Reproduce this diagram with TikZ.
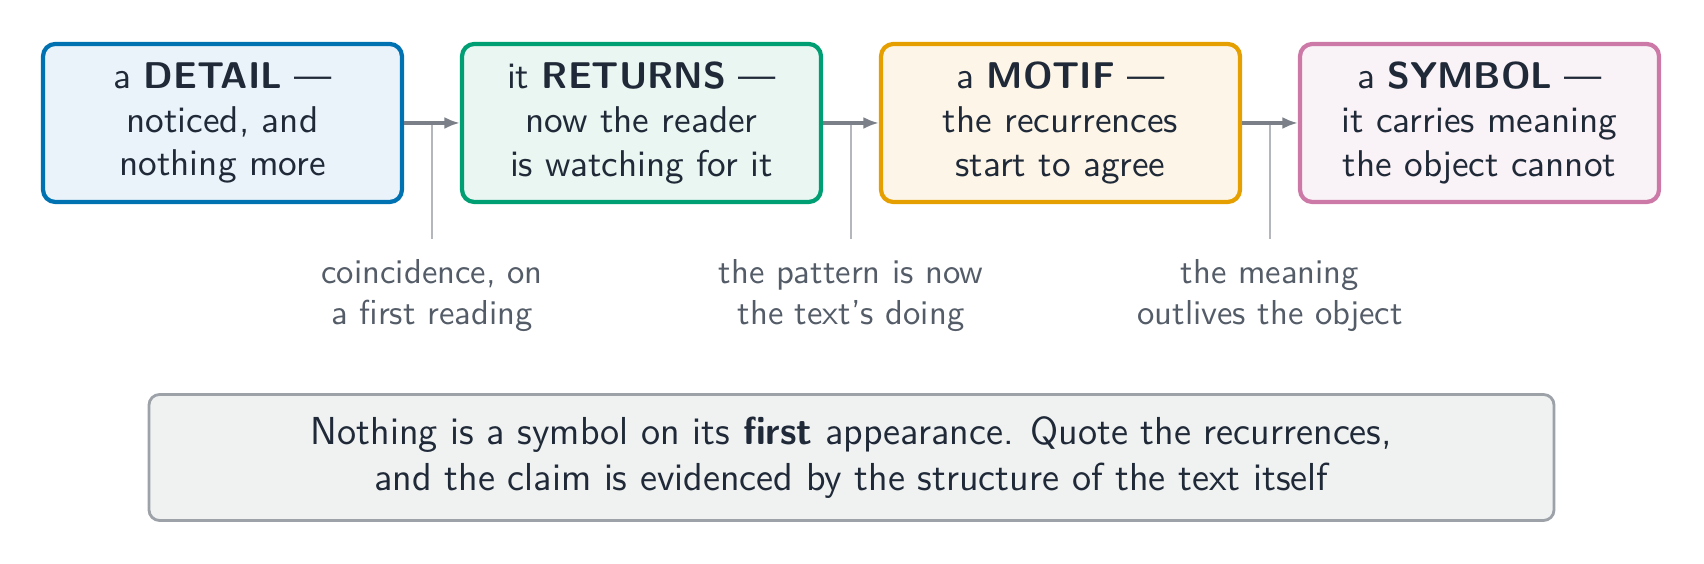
\documentclass[tikz,border=0pt]{standalone}
\usepackage{fontspec}
\usetikzlibrary{arrows.meta}
\definecolor{ink}{HTML}{1F2937}
\definecolor{notegray}{HTML}{545C68}
\definecolor{arrowgray}{HTML}{7A7F88}
\definecolor{tickgray}{HTML}{B3B6BC}
\definecolor{detailc}{HTML}{0072B2}
\definecolor{detailf}{HTML}{EAF3FA}
\definecolor{returnsc}{HTML}{009E73}
\definecolor{returnsf}{HTML}{E9F6F2}
\definecolor{motifc}{HTML}{E69F00}
\definecolor{motiff}{HTML}{FDF6E8}
\definecolor{symbolc}{HTML}{CC79A7}
\definecolor{symbolf}{HTML}{F9F2F6}
\definecolor{rulec}{HTML}{9DA1A8}
\definecolor{rulef}{HTML}{F0F2F2}

\begin{document}
\begin{tikzpicture}[
  stage/.style={line width=1.2pt, rounded corners=3.5pt, minimum width=3.59cm,
    minimum height=1.58cm, align=center, text=ink,
    font=\sffamily\fontsize{10.6}{12.4}\selectfont},
  flow/.style={draw=arrowgray, line width=1pt, -{Latex[length=4.4pt,width=3.4pt]}},
  tick/.style={draw=tickgray, line width=0.6pt},
  note/.style={align=center, text=notegray, font=\sffamily\fontsize{9.85}{11.7}\selectfont},
  rule/.style={draw=rulec, fill=rulef, line width=0.8pt, rounded corners=3pt,
    minimum width=14.05cm, minimum height=1.26cm, align=center, text=ink,
    font=\sffamily\fontsize{11.1}{12.9}\selectfont}
]
\useasboundingbox (0,0) rectangle (17.04,5.64);
\node [stage, draw=detailc, fill=detailf] (detail) at (2.225,4.41) {a \textbf{DETAIL} —\\noticed, and\\nothing more};
\node [stage, draw=returnsc, fill=returnsf] (returns) at (6.415,4.41) {it \textbf{RETURNS} —\\now the reader\\is watching for it};
\node [stage, draw=motifc, fill=motiff] (motif) at (10.605,4.41) {a \textbf{MOTIF} —\\the recurrences\\start to agree};
\node [stage, draw=symbolc, fill=symbolf] (symbol) at (14.795,4.41) {a \textbf{SYMBOL} —\\it carries meaning\\the object cannot};
\coordinate (t1) at (4.32,3.25);
\coordinate (t2) at (8.51,3.25);
\coordinate (t3) at (12.70,3.25);
\draw [tick] (4.32,4.41) -- (t1);
\draw [tick] (8.51,4.41) -- (t2);
\draw [tick] (12.70,4.41) -- (t3);
\draw [flow] (detail) -- (returns);
\draw [flow] (returns) -- (motif);
\draw [flow] (motif) -- (symbol);
\node [note, anchor=north] (n1) at (4.32,3.17) {coincidence, on\\a first reading};
\node [note, anchor=north] (n2) at (8.51,3.17) {the pattern is now\\the text’s doing};
\node [note, anchor=north] (n3) at (12.70,3.17) {the meaning\\outlives the object};
\node [rule] (moral) at (8.515,1.065) {Nothing is a symbol on its \textbf{first} appearance. Quote the recurrences,\\and the claim is evidenced by the structure of the text itself};
\end{tikzpicture}
\end{document}
